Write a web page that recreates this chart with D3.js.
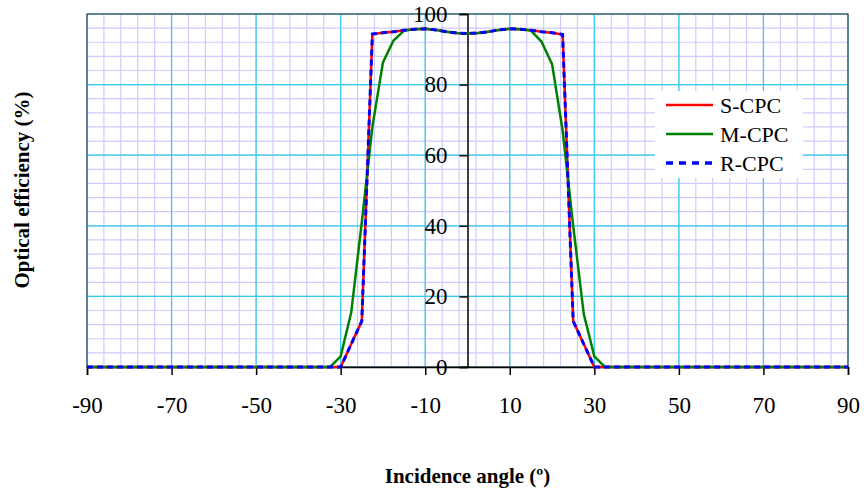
<!doctype html>
<html>
<head>
  <script src="https://cdnjs.cloudflare.com/ajax/libs/d3/7.8.5/d3.min.js" type="text/JavaScript"></script>
  <style>
    body { margin: 0; background: #fff; }
    text { font-family: "Liberation Serif", "Times New Roman", serif; fill: #000; }
  </style>
</head>
<body>
<svg width="864" height="492"></svg>
<script type="text/javascript">
// incidence angle (deg) and optical efficiency (%)
var angles = [-90, -35, -32.5, -30, -27.5, -25, -22.5, -20, -17.5, -15, -12.5, -10, -7.5, -5, -2.5, 0,
              2.5, 5, 7.5, 10, 12.5, 15, 17.5, 20, 22.5, 25, 27.5, 30, 32.5, 35, 90];
var sCPC = [0, 0, 0, 0, 6.5, 13, 94.3, 94.7, 95.0, 95.4, 95.7, 95.8, 95.5, 95.0, 94.6, 94.5,
            94.6, 95.0, 95.5, 95.8, 95.7, 95.4, 95.0, 94.7, 94.2, 13, 6.5, 0, 0, 0, 0];
var mCPC = [0, 0, 0, 3, 15.5, 41, 68, 86.3, 92.5, 95.3, 95.7, 95.8, 95.5, 95.0, 94.6, 94.5,
            94.6, 95.0, 95.5, 95.8, 95.7, 95.3, 92.2, 85.8, 67, 40, 15, 3, 0, 0, 0];
var rCPC = [0, 0, 0, 0, 6.5, 13, 94.3, 94.7, 95.0, 95.4, 95.7, 95.8, 95.5, 95.0, 94.6, 94.5,
            94.6, 95.0, 95.5, 95.8, 95.7, 95.4, 95.0, 94.7, 94.2, 13, 6.5, 0, 0, 0, 0];
var xTicks = [-90, -70, -50, -30, -10, 10, 30, 50, 70, 90];
var yTicks = [0, 20, 40, 60, 80, 100];
var seriesNames = ["S-CPC", "M-CPC", "R-CPC"];

var series = [
  {name: seriesNames[0], values: sCPC, color: "#ff0000", dash: null, legDash: null},
  {name: seriesNames[1], values: mCPC, color: "#008000", dash: null, legDash: null},
  {name: seriesNames[2], values: rCPC, color: "#0000ff", dash: "6,4", legDash: "7,6"}
];

var svg = d3.select("svg");
var x = d3.scaleLinear().domain([-90, 90]).range([87, 848]);
var y = d3.scaleLinear().domain([0, 100]).range([367, 14]);

// grid: minor every 4, major every 20
var g = svg.append("g");
g.selectAll(".vmin").data(d3.range(-90, 91, 4))
  .enter().append("line")
  .attr("x1", d => x(d)).attr("x2", d => x(d))
  .attr("y1", y(0)).attr("y2", y(100))
  .style("stroke", "#ccccff").style("stroke-width", 1.2);
g.selectAll(".hmin").data(d3.range(0, 101, 4))
  .enter().append("line")
  .attr("x1", x(-90)).attr("x2", x(90))
  .attr("y1", d => y(d)).attr("y2", d => y(d))
  .style("stroke", "#ccccff").style("stroke-width", 1.2);
g.selectAll(".vmaj").data(xTicks)
  .enter().append("line")
  .attr("x1", d => x(d)).attr("x2", d => x(d))
  .attr("y1", y(0)).attr("y2", y(100))
  .style("stroke", "#33ccee").style("stroke-width", 1.2);
g.selectAll(".hmaj").data(yTicks)
  .enter().append("line")
  .attr("x1", x(-90)).attr("x2", x(90))
  .attr("y1", d => y(d)).attr("y2", d => y(d))
  .style("stroke", "#33ccee").style("stroke-width", 1.2);

svg.append("rect")
  .attr("x", x(-90)).attr("y", y(100))
  .attr("width", x(90) - x(-90)).attr("height", y(0) - y(100))
  .style("fill", "none").style("stroke", "#333").style("stroke-width", 1);

// axes (plain hyphen for negatives, like the original)
var fmt = d => String(d);
var xAxis = d3.axisBottom(x).tickValues(xTicks).tickSize(8).tickPadding(22).tickFormat(fmt);
var gx = svg.append("g").attr("transform", "translate(0," + y(0) + ")").call(xAxis);
var yAxis = d3.axisLeft(y).tickValues(yTicks).tickSize(8).tickPadding(12).tickFormat(fmt);
var gy = svg.append("g").attr("transform", "translate(" + x(0) + ",0)").call(yAxis);
[gx, gy].forEach(a => {
  a.select(".domain").style("stroke", "#000").style("stroke-width", 1.5);
  a.selectAll(".tick line").style("stroke", "#000").style("stroke-width", 1.5);
  a.selectAll("text").style("font-family", "Liberation Serif").style("font-size", "23px");
});

// series
var line = d3.line().x(d => x(d[0])).y(d => y(d[1]));
series.forEach(s => {
  svg.append("path")
    .datum(angles.map((a, i) => [a, s.values[i]]))
    .attr("d", line)
    .style("fill", "none")
    .style("stroke", s.color)
    .style("stroke-width", s.dash ? 3 : 2.5)
    .style("stroke-dasharray", s.dash);
});

// legend
var leg = svg.append("g");
leg.append("rect").attr("x", 655).attr("y", 91).attr("width", 148).attr("height", 87)
  .style("fill", "#fff");
series.forEach((s, i) => {
  var ly = 105 + i * 29;
  leg.append("line").attr("x1", 666).attr("x2", 713).attr("y1", ly).attr("y2", ly)
    .style("stroke", s.color).style("stroke-width", s.legDash ? 3.3 : 2.7)
    .style("stroke-dasharray", s.legDash);
  leg.append("text").attr("x", 720).attr("y", ly).attr("dy", "0.35em")
    .style("font-size", "22px").text(s.name);
});

// titles
svg.append("text").attr("x", x(0)).attr("y", 483).attr("text-anchor", "middle")
  .style("font-size", "21px").style("font-weight", "bold").text("Incidence angle (º)");
svg.append("text").attr("transform", "translate(29,190) rotate(-90)").attr("text-anchor", "middle")
  .style("font-size", "21px").style("font-weight", "bold").text("Optical efficiency (%)");
</script>
</body>
</html>
